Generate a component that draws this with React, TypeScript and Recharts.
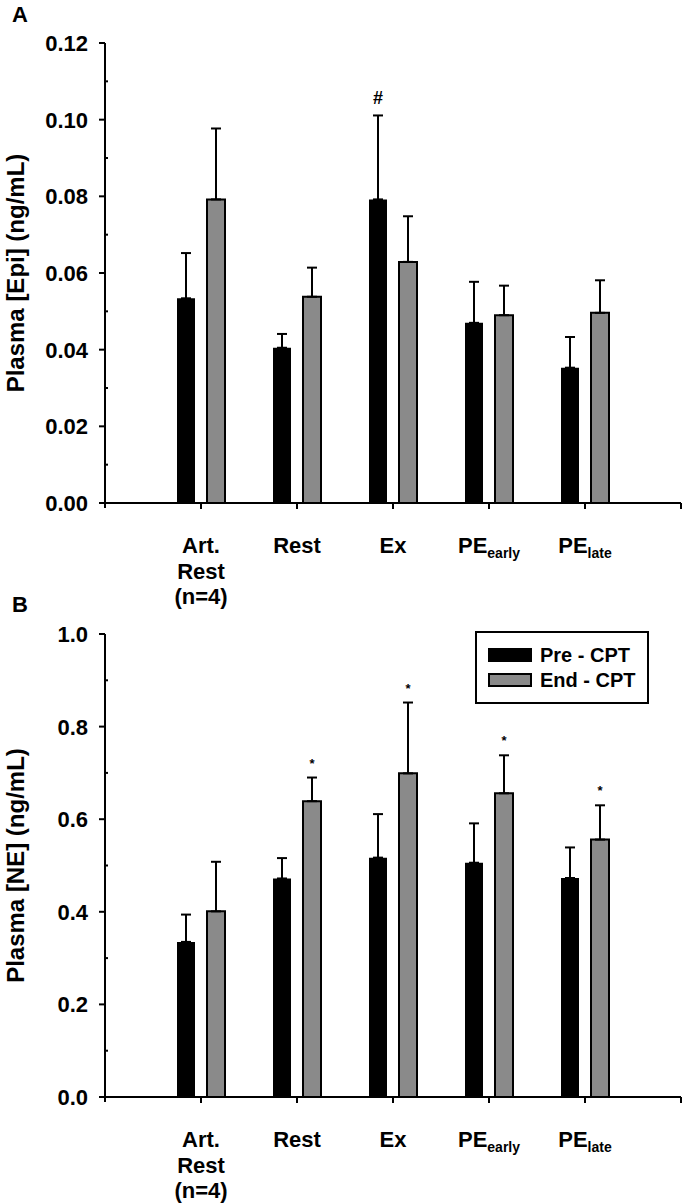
import React from 'react';
import { BarChart, Bar, XAxis, YAxis, ErrorBar, LabelList } from 'recharts';

const FONT = '"Liberation Sans", Arial, Helvetica, sans-serif';

// Categories (main text + subscript)
const catMain = ['Art. Rest (n=4)', 'Rest', 'Ex', 'PE', 'PE'];
const catSub = ['', '', '', 'early', 'late'];
const catKeys = ['art', 'rest', 'ex', 'pee', 'pel'];

// Panel A: Plasma [Epi]
const epiPre = [0.0534, 0.0405, 0.0792, 0.047, 0.0353];
const epiPreErr = [0.0118, 0.0036, 0.0219, 0.0107, 0.008];
const epiEnd = [0.0792, 0.0538, 0.0629, 0.049, 0.0496];
const epiEndErr = [0.0185, 0.0076, 0.0119, 0.0077, 0.0085];
const epiPreMarks = ['', '', '#', '', ''];
const epiEndMarks = ['', '', '', '', ''];
const epiTicks = [0, 0.01, 0.02, 0.03, 0.04, 0.05, 0.06, 0.07, 0.08, 0.09, 0.1, 0.11, 0.12];

// Panel B: Plasma [NE]
const nePre = [0.335, 0.472, 0.517, 0.506, 0.473];
const nePreErr = [0.059, 0.044, 0.094, 0.085, 0.066];
const neEnd = [0.401, 0.639, 0.699, 0.656, 0.556];
const neEndErr = [0.107, 0.051, 0.153, 0.082, 0.074];
const nePreMarks = ['', '', '', '', ''];
const neEndMarks = ['', '*', '*', '*', '*'];
const neTicks = [0, 0.1, 0.2, 0.3, 0.4, 0.5, 0.6, 0.7, 0.8, 0.9, 1.0];

const seriesNames = ['Pre - CPT', 'End - CPT'];
const GRAY = '#8a8a8a';

function buildData(pre: number[], preErr: number[], end: number[], endErr: number[]) {
  return catKeys.map((k, i) => ({
    cat: k,
    pre: pre[i],
    preErr: [0, preErr[i]],
    end: end[i],
    endErr: [0, endErr[i]],
  }));
}

const XTick = (props: any) => {
  const { x, y, payload, index } = props;
  const i = catKeys.indexOf(payload.value);
  const main = catMain[i];
  const sub = catSub[i];
  const lines = sub ? [main] : main.split(' ');
  return (
    <g>
      <line x1={x} y1={y} x2={x} y2={y + 6} stroke="#000" strokeWidth={2} />
      {index === catKeys.length - 1 && (
        <line x1={x + 96} y1={y} x2={x + 96} y2={y + 6} stroke="#000" strokeWidth={2} />
      )}
      {lines.map((ln, li) => (
        <text
          key={li}
          x={x}
          y={y + 50 + li * 25.5}
          textAnchor="middle"
          fontFamily={FONT}
          fontWeight="bold"
          fontSize={22}
          fill="#000"
        >
          {ln}
          {sub && li === 0 ? (
            <tspan fontSize={14} dy={5}>
              {sub}
            </tspan>
          ) : null}
        </text>
      ))}
    </g>
  );
};

const makeYTick = (majorEvery: number, step: number, digits: number) => (props: any) => {
  const { x, y, payload } = props;
  const k = Math.round(payload.value / step);
  const major = k % majorEvery === 0;
  if (!major) {
    return <line x1={x} y1={y} x2={x + 3} y2={y} stroke="#000" strokeWidth={2} />;
  }
  return (
    <g>
      <line x1={x - 6} y1={y} x2={x} y2={y} stroke="#000" strokeWidth={2} />
      {k === 0 && <line x1={x} y1={y} x2={x} y2={y + 5} stroke="#000" strokeWidth={2} />}
      <text
        x={x - 17}
        y={y + 8}
        textAnchor="end"
        fontFamily={FONT}
        fontWeight="bold"
        fontSize={22}
        fill="#000"
      >
        {payload.value.toFixed(digits)}
      </text>
    </g>
  );
};

const makeMarkLabel = (marks: string[], errs: number[], fontSize: number, gap: number) => (props: any) => {
  const { index, value } = props;
  const m = marks[index];
  if (!m) return null;
  const vb = props.viewBox || props;
  const bx = vb.x ?? props.x;
  const by = vb.y ?? props.y;
  const bw = vb.width ?? props.width;
  const bh = Math.abs(vb.height ?? props.height);
  const pxPerUnit = bh / value;
  const topY = by - errs[index] * pxPerUnit;
  return (
    <text
      x={bx + bw / 2}
      y={topY - gap}
      textAnchor="middle"
      fontFamily={FONT}
      fontWeight="bold"
      fontSize={fontSize}
      fill="#000"
    >
      {m}
    </text>
  );
};

const makeYLabel = (text: string) => (props: any) => {
  const vb = props.viewBox || {};
  const cy = vb.y + vb.height / 2;
  return (
    <text
      x={24}
      y={cy}
      transform={`rotate(-90, 24, ${cy})`}
      textAnchor="middle"
      fontFamily={FONT}
      fontWeight="bold"
      fontSize={24}
      fill="#000"
    >
      {text}
    </text>
  );
};

function Panel(props: any) {
  const {
    data, ticks, max, majorEvery, step, digits, yLabel, height, marginTop, marginBottom,
    preMarks, endMarks, preErr, endErr, markSize, markGap,
  } = props;
  return (
    <BarChart
      width={688}
      height={height}
      data={data}
      margin={{ top: marginTop, right: 7, left: 45, bottom: marginBottom }}
      barSize={18}
      barGap={12}
    >
      <XAxis
        dataKey="cat"
        padding={{ left: 48, right: 48 }}
        axisLine={{ stroke: '#000', strokeWidth: 2 }}
        tickLine={false}
        tickSize={0}
        tickMargin={0}
        height={80}
        interval={0}
        tick={<XTick />}
      />
      <YAxis
        width={60}
        domain={[0, max]}
        ticks={ticks}
        interval={0}
        allowDataOverflow
        axisLine={{ stroke: '#000', strokeWidth: 2 }}
        tickLine={false}
        tickSize={0}
        tickMargin={0}
        tick={makeYTick(majorEvery, step, digits)}
        label={makeYLabel(yLabel)}
      />
      <Bar dataKey="pre" name={seriesNames[0]} fill="#000" isAnimationActive={false}>
        <ErrorBar dataKey="preErr" direction="y" width={5} stroke="#000" strokeWidth={2} />
        <LabelList dataKey="pre" content={makeMarkLabel(preMarks, preErr, markSize, markGap)} />
      </Bar>
      <Bar dataKey="end" name={seriesNames[1]} fill={GRAY} stroke="#000" strokeWidth={2} isAnimationActive={false}>
        <ErrorBar dataKey="endErr" direction="y" width={5} stroke="#000" strokeWidth={2} />
        <LabelList dataKey="end" content={makeMarkLabel(endMarks, endErr, markSize, markGap)} />
      </Bar>
    </BarChart>
  );
}

const LegendBox = () => (
  <svg width={176} height={76} style={{ position: 'absolute', left: 474, top: 630 }}>
    <rect x={2} y={2} width={172} height={71} fill="#fff" stroke="#000" strokeWidth={2} />
    <rect x={14} y={18} width={44} height={14} fill="#000" />
    <rect x={15} y={44} width={42} height={12} fill={GRAY} stroke="#000" strokeWidth={2} />
    <text x={66} y={32} fontFamily={FONT} fontWeight="bold" fontSize={20} fill="#000">
      {seriesNames[0]}
    </text>
    <text x={66} y={57} fontFamily={FONT} fontWeight="bold" fontSize={20} fill="#000">
      {seriesNames[1]}
    </text>
  </svg>
);

export default function App() {
  const dataA = buildData(epiPre, epiPreErr, epiEnd, epiEndErr);
  const dataB = buildData(nePre, nePreErr, neEnd, neEndErr);
  return (
    <div style={{ position: 'absolute', left: 0, top: 0, width: 688, height: 1203, background: '#fff' }}>
      <div style={{ position: 'absolute', left: 0, top: 590 }}>
        <Panel
          data={dataB}
          ticks={neTicks}
          max={1.0}
          majorEvery={2}
          step={0.1}
          digits={1}
          yLabel="Plasma [NE] (ng/mL)"
          height={613}
          marginTop={44}
          marginBottom={26}
          preMarks={nePreMarks}
          endMarks={neEndMarks}
          preErr={nePreErr}
          endErr={neEndErr}
          markSize={13}
          markGap={10}
        />
      </div>
      <div style={{ position: 'absolute', left: 0, top: 0 }}>
        <Panel
          data={dataA}
          ticks={epiTicks}
          max={0.12}
          majorEvery={2}
          step={0.01}
          digits={2}
          yLabel="Plasma [Epi] (ng/mL)"
          height={612}
          marginTop={43}
          marginBottom={29}
          preMarks={epiPreMarks}
          endMarks={epiEndMarks}
          preErr={epiPreErr}
          endErr={epiEndErr}
          markSize={18}
          markGap={11}
        />
      </div>
      <div style={{ position: 'absolute', left: 12, top: 2, fontFamily: FONT, fontWeight: 'bold', fontSize: 22 }}>A</div>
      <div style={{ position: 'absolute', left: 12, top: 592, fontFamily: FONT, fontWeight: 'bold', fontSize: 22 }}>B</div>
      <LegendBox />
    </div>
  );
}
